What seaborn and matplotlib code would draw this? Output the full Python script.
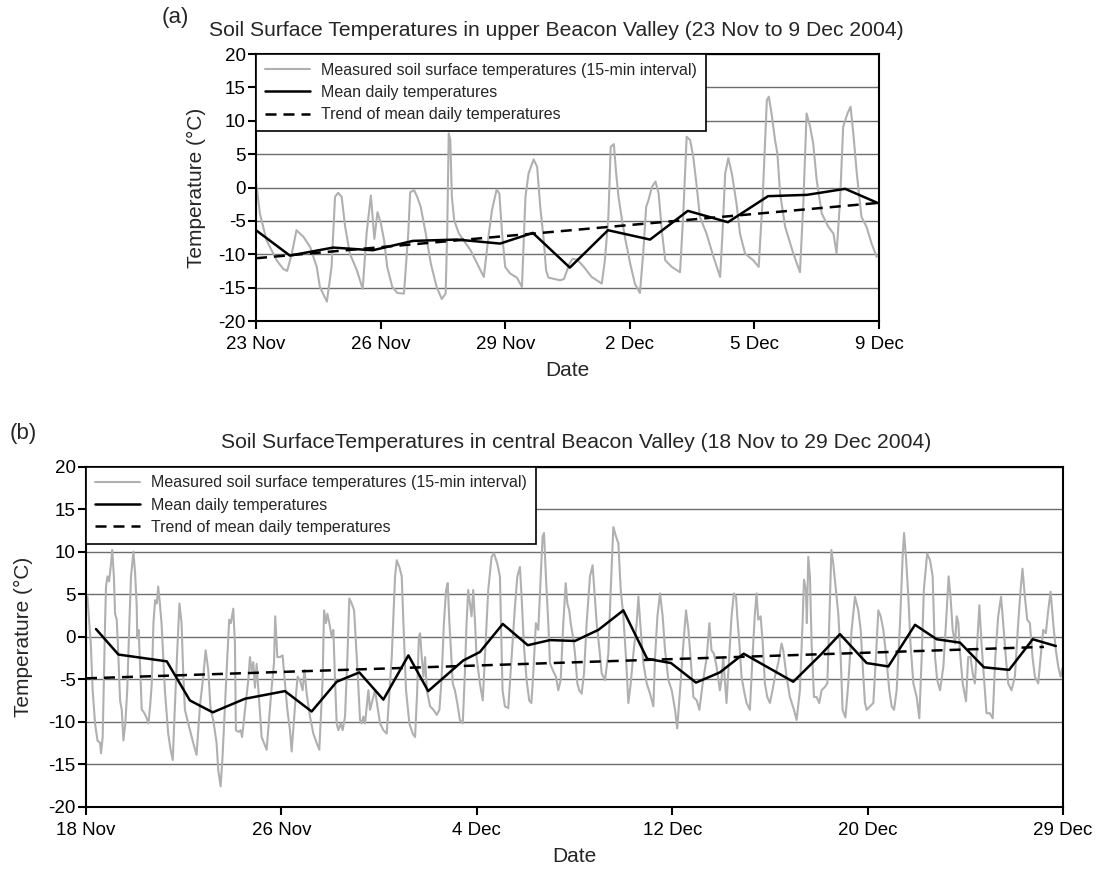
import numpy as np
import pandas as pd
import matplotlib
matplotlib.use("Agg")
import matplotlib.pyplot as plt
import seaborn as sns

# ---- panel (a): upper Beacon Valley, days since 23 Nov ----
a_meas_day = [
    0.00, 0.10, 0.27, 0.53, 0.70, 0.80, 0.92, 1.04, 1.22, 1.39,
    1.56, 1.64, 1.82, 1.94, 2.03, 2.11, 2.20, 2.29, 2.41, 2.59,
    2.74, 2.84, 2.95, 3.04, 3.12, 3.20, 3.29, 3.37, 3.50, 3.63,
    3.80, 3.91, 3.96, 4.06, 4.14, 4.23, 4.36, 4.49, 4.64, 4.77,
    4.87, 4.91, 4.95, 4.99, 5.03, 5.09, 5.21, 5.33, 5.51, 5.68,
    5.85, 5.98, 6.06, 6.18, 6.25, 6.32, 6.40, 6.53, 6.70, 6.83,
    6.92, 7.00, 7.13, 7.22, 7.30, 7.39, 7.45, 7.51, 7.81, 7.91,
    8.05, 8.13, 8.25, 8.42, 8.62, 8.88, 8.96, 9.05, 9.11, 9.19,
    9.25, 9.31, 9.40, 9.49, 9.61, 9.73, 9.86, 9.95, 10.02, 10.08,
    10.17, 10.26, 10.34, 10.43, 10.51, 10.68, 10.89, 10.97, 11.06, 11.15,
    11.23, 11.32, 11.40, 11.57, 11.75, 11.92, 11.98, 12.05, 12.13, 12.22,
    12.34, 12.43, 12.56, 12.77, 12.91, 13.01, 13.12, 13.17, 13.24, 13.33,
    13.39, 13.46, 13.59, 13.80, 13.97, 14.06, 14.14, 14.23, 14.31, 14.40,
    14.53, 14.70, 14.83, 14.91, 15.00, 15.08, 15.19, 15.27, 15.34, 15.43,
    15.55, 15.68, 15.81, 15.94]
a_meas_temp = [
    0.9, -3.9, -7.9, -10.9, -12.2, -12.5, -9.9, -6.4, -7.4, -8.9,
    -11.9, -14.9, -17.1, -11.9, -1.4, -0.8, -1.4, -5.9, -9.9, -12.4,
    -15.2, -6.9, -1.2, -7.7, -3.7, -5.2, -7.9, -11.9, -14.9, -15.8,
    -15.9, -6.9, -0.7, -0.4, -1.4, -2.9, -6.9, -11.4, -14.9, -16.7,
    -15.9, -6.9, 8.1, 7.1, -1.4, -4.9, -6.9, -7.9, -9.4, -11.4,
    -13.4, -6.9, -3.4, -0.3, -0.9, -6.9, -11.9, -12.9, -13.5, -14.9,
    -1.4, 2.1, 4.2, 3.1, -2.9, -7.9, -12.4, -13.5, -13.9, -13.7,
    -11.4, -10.7, -10.8, -11.9, -13.4, -14.4, -10.9, -4.4, 6.1, 6.5,
    2.1, -1.4, -4.9, -7.9, -11.4, -14.4, -15.8, -9.4, -2.9, -1.9,
    0.1, 0.9, -0.9, -6.9, -10.9, -11.9, -12.7, -4.4, 7.6, 7.1,
    4.6, 0.1, -4.4, -6.9, -10.4, -13.4, -6.9, 2.1, 4.4, 2.1,
    -2.4, -6.9, -9.9, -10.9, -11.9, -1.9, 13.1, 13.6, 11.1, 7.1,
    5.1, -0.9, -5.9, -9.9, -12.7, -1.9, 11.1, 9.1, 6.6, 1.1,
    -3.9, -5.9, -6.9, -9.9, -1.9, 9.1, 11.1, 12.1, 8.1, 2.1,
    -4.4, -5.9, -8.4, -10.4]

a_mean_day = [0.0, 0.87, 1.98, 3.0, 4.03, 5.16, 6.27, 7.11, 8.06,
              9.04, 10.12, 11.09, 12.12, 13.15, 14.15, 15.13, 16.0]
a_mean_temp = [-6.4, -10.2, -9.0, -9.4, -8.0, -7.8, -8.4, -6.8, -12.0,
               -6.4, -7.8, -3.5, -5.2, -1.3, -1.1, -0.2, -2.4]

a_trend_day = [0.0, 16.0]
a_trend_temp = [-10.6, -2.3]

a_tick_labels = ["23 Nov", "26 Nov", "29 Nov", "2 Dec", "5 Dec", "9 Dec"]

# ---- panel (b): central Beacon Valley, days since 18 Nov ----
b_meas_day = [
    0.06, 0.20, 0.28, 0.38, 0.48, 0.59, 0.63, 0.70, 0.80, 0.84,
    0.90, 0.97, 1.05, 1.10, 1.17, 1.22, 1.29, 1.36, 1.43, 1.50,
    1.57, 1.65, 1.73, 1.82, 1.89, 1.99, 2.06, 2.13, 2.15, 2.21,
    2.27, 2.34, 2.41, 2.52, 2.62, 2.69, 2.76, 2.83, 2.90, 2.97,
    3.03, 3.10, 3.17, 3.24, 3.31, 3.45, 3.55, 3.64, 3.73, 3.83,
    3.92, 4.01, 4.08, 4.15, 4.29, 4.50, 4.64, 4.78, 4.92, 5.02,
    5.13, 5.23, 5.34, 5.48, 5.55, 5.65, 5.73, 5.83, 5.93, 6.01,
    6.08, 6.18, 6.25, 6.29, 6.41, 6.49, 6.55, 6.81, 6.88, 6.95,
    7.02, 7.09, 7.16, 7.37, 7.58, 7.79, 7.89, 7.94, 8.03, 8.14,
    8.25, 8.35, 8.45, 8.56, 8.63, 8.77, 8.88, 8.98, 9.09, 9.17,
    9.26, 9.40, 9.54, 9.68, 9.79, 9.93, 9.99, 10.07, 10.13, 10.21,
    10.31, 10.38, 10.45, 10.52, 10.59, 10.69, 10.77, 10.87, 10.97, 11.05,
    11.15, 11.25, 11.33, 11.40, 11.50, 11.57, 11.64, 11.71, 11.85, 11.92,
    12.13, 12.23, 12.34, 12.48, 12.62, 12.83, 12.97, 13.04, 13.15, 13.25,
    13.32, 13.43, 13.57, 13.71, 13.81, 13.90, 13.97, 14.02, 14.09, 14.16,
    14.23, 14.30, 14.44, 14.58, 14.72, 14.83, 14.92, 15.02, 15.11, 15.18,
    15.25, 15.30, 15.39, 15.48, 15.58, 15.69, 15.81, 15.90, 15.97, 16.04,
    16.11, 16.18, 16.25, 16.32, 16.39, 16.53, 16.65, 16.74, 16.88, 17.02,
    17.12, 17.26, 17.37, 17.48, 17.58, 17.72, 17.86, 18.00, 18.10, 18.21,
    18.28, 18.38, 18.49, 18.60, 18.69, 18.77, 18.88, 18.98, 19.08, 19.16,
    19.22, 19.30, 19.40, 19.47, 19.58, 19.72, 19.82, 19.92, 20.03, 20.13,
    20.20, 20.28, 20.34, 20.45, 20.52, 20.62, 20.70, 20.80, 20.90, 21.01,
    21.15, 21.26, 21.43, 21.55, 21.64, 21.78, 21.92, 22.02, 22.13, 22.24,
    22.34, 22.44, 22.55, 22.66, 22.76, 22.86, 22.97, 23.11, 23.18, 23.28,
    23.39, 23.53, 23.67, 23.81, 23.88, 23.98, 24.09, 24.20, 24.30, 24.44,
    24.58, 24.72, 24.81, 24.93, 25.07, 25.18, 25.28, 25.37, 25.49, 25.63,
    25.74, 25.88, 26.05, 26.16, 26.25, 26.35, 26.46, 26.60, 26.67, 26.74,
    26.88, 26.99, 27.09, 27.19, 27.28, 27.33, 27.42, 27.51, 27.61, 27.72,
    27.86, 27.97, 28.07, 28.14, 28.21, 28.31, 28.40, 28.49, 28.59, 28.70,
    28.81, 28.91, 29.05, 29.19, 29.26, 29.40, 29.54, 29.71, 29.82, 29.96,
    30.07, 30.13, 30.21, 30.25, 30.31, 30.38, 30.45, 30.55, 30.66, 30.77,
    30.87, 31.01, 31.11, 31.19, 31.28, 31.36, 31.50, 31.57, 31.67, 31.75,
    31.87, 31.99, 32.13, 32.27, 32.41, 32.51, 32.62, 32.69, 32.76, 32.90,
    33.04, 33.15, 33.25, 33.35, 33.46, 33.57, 33.71, 33.81, 33.91, 34.02,
    34.16, 34.27, 34.33, 34.41, 34.51, 34.60, 34.72, 34.86, 34.97, 35.07,
    35.16, 35.30, 35.42, 35.53, 35.63, 35.72, 35.84, 35.98, 36.09, 36.20,
    36.28, 36.37, 36.47, 36.54, 36.61, 36.67, 36.79, 36.93, 37.02, 37.12,
    37.21, 37.30, 37.40, 37.49, 37.58, 37.68, 37.79, 37.93, 38.05, 38.16,
    38.28, 38.40, 38.49, 38.60, 38.70, 38.84, 38.98, 39.12, 39.22, 39.30,
    39.40, 39.50, 39.61, 39.72, 39.82, 39.96, 40.06, 40.17, 40.28, 40.38,
    40.48, 40.59, 40.70, 40.80, 40.90, 40.98]
b_meas_temp = [
    4.7, -0.8, -6.3, -10.2, -12.2, -12.5, -13.7, -11.8, 1.6, 5.9,
    7.1, 6.5, 8.6, 10.2, 7.1, 2.7, 2.0, -2.4, -7.5, -8.6,
    -12.2, -10.2, -6.3, 1.6, 7.1, 10.0, 7.5, 3.5, -0.2, 0.8,
    -3.5, -8.6, -8.8, -9.4, -10.2, -8.2, -5.5, 1.6, 4.3, 3.9,
    5.9, 3.9, 1.6, -2.4, -6.3, -11.4, -13.3, -14.5, -8.2, -1.6,
    3.9, 1.6, -4.3, -8.6, -10.2, -12.5, -13.9, -8.2, -4.7, -1.6,
    -3.9, -8.6, -9.8, -12.5, -15.7, -17.6, -14.1, -8.2, -2.4, 2.0,
    1.6, 3.3, -0.8, -11.0, -11.2, -11.0, -11.8, -5.1, -2.4, -4.0,
    -3.0, -6.0, -3.2, -11.8, -13.3, -6.0, -3.1, 2.4, -2.4, -2.4,
    -2.2, -5.5, -8.6, -11.0, -13.5, -8.2, -4.7, -5.1, -6.3, -3.9,
    -6.7, -9.4, -11.4, -12.5, -13.3, -5.1, 3.1, 1.6, 2.7, 1.6,
    0.0, 0.8, -5.1, -10.2, -11.0, -10.2, -11.0, -9.4, -2.4, 4.5,
    3.9, 3.1, -0.8, -4.3, -9.8, -10.2, -9.4, -10.2, -6.3, -8.6,
    -6.3, -8.2, -10.2, -11.0, -11.4, -2.4, 7.1, 9.0, 8.2, 7.1,
    1.6, -6.3, -10.2, -11.4, -11.8, -6.3, 0.0, 0.4, -2.4, -4.7,
    -2.4, -6.3, -8.2, -8.6, -9.2, -8.6, -5.1, 1.6, 5.5, 6.3,
    1.6, -0.8, -5.5, -6.3, -7.8, -9.8, -10.2, -4.3, 1.6, 5.5,
    3.9, 2.4, 5.5, 2.0, -2.4, -5.5, -7.5, -2.4, 5.5, 9.4,
    9.8, 8.6, 7.1, -6.3, -8.2, -8.4, -2.4, 3.5, 7.1, 8.2,
    4.7, -1.2, -5.1, -7.5, -7.8, -4.3, 1.6, 0.8, 7.0, 11.8,
    12.2, 7.1, 1.6, -3.1, -3.9, -4.7, -6.3, -5.1, 1.6, 6.3,
    3.9, 3.1, 1.6, -0.2, -2.0, -5.5, -6.3, -6.7, -4.3, 1.6,
    7.1, 8.4, 1.6, -1.6, -4.3, -5.1, -2.0, 5.5, 12.9, 11.8,
    11.0, 5.5, 2.4, -2.4, -7.8, -5.5, -2.0, 1.6, 4.7, 0.8,
    -3.1, -5.5, -6.7, -8.2, -2.4, 2.4, 5.1, 2.4, -1.6, -5.1,
    -6.3, -8.6, -10.8, -6.3, -0.8, 3.1, 0.8, -2.4, -7.1, -7.5,
    -8.6, -5.5, -2.4, 1.6, -1.6, -2.0, -3.5, -6.3, -5.1, -2.4,
    -7.8, -2.4, 2.4, 5.1, 4.7, 2.4, -0.8, -4.7, -6.3, -7.8,
    -8.6, -2.4, 2.7, 5.1, 2.0, 2.4, -0.8, -5.5, -7.1, -7.8,
    -6.3, -4.7, -3.1, -0.8, -1.6, -4.7, -7.1, -8.6, -9.8, -6.3,
    1.6, 6.7, 5.5, 1.6, 9.4, 7.1, -0.8, -7.1, -7.1, -7.8,
    -6.3, -5.9, -5.5, 1.6, 10.2, 8.6, 4.7, 2.7, -2.4, -8.6,
    -9.5, -5.5, 0.8, 4.7, 3.1, 0.8, -4.7, -7.8, -8.6, -8.2,
    -7.8, -2.4, 3.1, 2.4, 0.8, -2.0, -6.3, -8.2, -8.6, -6.3,
    1.6, 9.4, 12.2, 9.4, 4.7, -0.8, -5.5, -7.1, -9.6, -2.4,
    5.5, 9.8, 9.0, 7.1, -2.4, -5.1, -6.3, -3.5, 1.6, 7.1,
    4.7, 0.8, -0.8, 2.4, 1.6, -1.6, -5.5, -7.6, -2.4, -2.4,
    -4.3, -5.5, -0.8, 3.7, -0.8, -4.7, -9.0, -9.0, -9.6, -2.4,
    2.4, 4.7, 1.6, -2.4, -5.5, -6.3, -4.7, 1.6, 5.5, 8.0,
    4.7, 2.0, 1.6, -2.4, -4.7, -5.5, -2.4, 0.8, 0.4, 3.1,
    5.3, 1.6, -1.6, -3.5, -4.7, -3.7]

b_mean_day = [0.42, 1.36, 3.39, 4.36, 5.32, 6.67, 8.35, 9.47, 10.52, 11.47,
              12.48, 13.53, 14.36, 15.83, 16.53, 17.49, 18.54, 19.47, 20.52, 21.5,
              22.55, 23.55, 24.55, 25.6, 26.6, 27.6, 29.68, 30.84, 31.64, 32.76,
              33.67, 34.79, 35.7, 36.68, 37.68, 38.74, 39.73, 40.7]
b_mean_temp = [0.9, -2.1, -2.9, -7.5, -8.9, -7.3, -6.4, -8.8, -5.3, -4.2,
               -7.4, -2.2, -6.4, -2.8, -1.8, 1.5, -1.0, -0.4, -0.5, 0.8,
               3.1, -2.6, -3.1, -5.4, -4.2, -2.0, -5.3, -2.1, 0.3, -3.1,
               -3.5, 1.4, -0.3, -0.7, -3.6, -3.9, -0.3, -1.1]

b_trend_day = [0.0, 40.2]
b_trend_temp = [-4.9, -1.2]

b_tick_labels = ["18 Nov", "26 Nov", "4 Dec", "12 Dec", "20 Dec", "29 Dec"]

legend_labels = ["Measured soil surface temperatures (15-min interval)",
                 "Mean daily temperatures",
                 "Trend of mean daily temperatures"]

sns.set_style("ticks")
plt.rcParams['font.family'] = ['Liberation Sans', 'DejaVu Sans']
plt.rcParams['axes.unicode_minus'] = False

GRAY = '#b0b0b0'
DASH = (0, (4.4, 2.8))


def draw_panel(ax, meas, mean, trend, n_days, tick_labels):
    sns.lineplot(x=meas[0], y=meas[1], ax=ax, color=GRAY, linewidth=1.5,
                 estimator=None, sort=False, label=legend_labels[0])
    sns.lineplot(x=mean[0], y=mean[1], ax=ax, color='black', linewidth=1.8,
                 estimator=None, sort=False, label=legend_labels[1])
    sns.lineplot(x=trend[0], y=trend[1], ax=ax, color='black', linewidth=1.8,
                 linestyle=DASH, estimator=None, sort=False,
                 label=legend_labels[2])
    ax.set_xlim(0, n_days)
    ax.set_ylim(-20, 20)
    ax.set_xticks(np.linspace(0, n_days, 6))
    ax.set_xticklabels(tick_labels)
    ax.set_yticks(np.arange(-20, 21, 5))
    ax.yaxis.grid(True, color='#6e6e6e', linewidth=1.0)
    ax.xaxis.grid(False)
    ax.set_axisbelow(True)
    for sp in ax.spines.values():
        sp.set_visible(True)
        sp.set_color('black')
        sp.set_linewidth(1.5)
    ax.tick_params(axis='both', direction='out', length=6, width=1.5,
                   labelsize=13.5, colors='black')
    ax.tick_params(axis='y', pad=1.5)
    ax.tick_params(axis='x', pad=5)
    ax.set_xlabel('Date', fontsize=15)
    ax.set_ylabel('Temperature (°C)', fontsize=15)
    leg = ax.legend(loc='upper left', fontsize=11.5, frameon=True,
                    fancybox=False, framealpha=1, edgecolor='black',
                    borderaxespad=0, handlelength=2.8, handletextpad=0.75,
                    labelspacing=0.45, borderpad=0.55)
    leg.get_frame().set_linewidth(1.2)
    leg.set_zorder(10)


fig = plt.figure(figsize=(11.01, 8.71), dpi=100)
ax_a = fig.add_axes([256 / 1101, 1 - 321 / 871, 623 / 1101, 267 / 871])
ax_b = fig.add_axes([86 / 1101, 1 - 806.7 / 871, 977 / 1101, 340 / 871])

draw_panel(ax_a, (a_meas_day, a_meas_temp), (a_mean_day, a_mean_temp),
           (a_trend_day, a_trend_temp), 16, a_tick_labels)
draw_panel(ax_b, (b_meas_day, b_meas_temp), (b_mean_day, b_mean_temp),
           (b_trend_day, b_trend_temp), 41, b_tick_labels)

ax_a.yaxis.set_label_coords(-0.080, 0.5)
ax_a.xaxis.set_label_coords(0.5, -0.150)
ax_b.yaxis.set_label_coords(-0.054, 0.5)
ax_b.xaxis.set_label_coords(0.5, -0.118)

fig.text(556 / 1101, 1 - 30 / 871,
         'Soil Surface Temperatures in upper Beacon Valley (23 Nov to 9 Dec 2004)',
         ha='center', va='center', fontsize=15.2)
fig.text(576 / 1101, 1 - 442 / 871,
         'Soil SurfaceTemperatures in central Beacon Valley (18 Nov to 29 Dec 2004)',
         ha='center', va='center', fontsize=15.2)
fig.text(175 / 1101, 1 - 18 / 871, '(a)', ha='center', va='center', fontsize=16)
fig.text(23 / 1101, 1 - 433 / 871, '(b)', ha='center', va='center', fontsize=16)

fig.savefig('out.png', dpi=100, facecolor='white')
